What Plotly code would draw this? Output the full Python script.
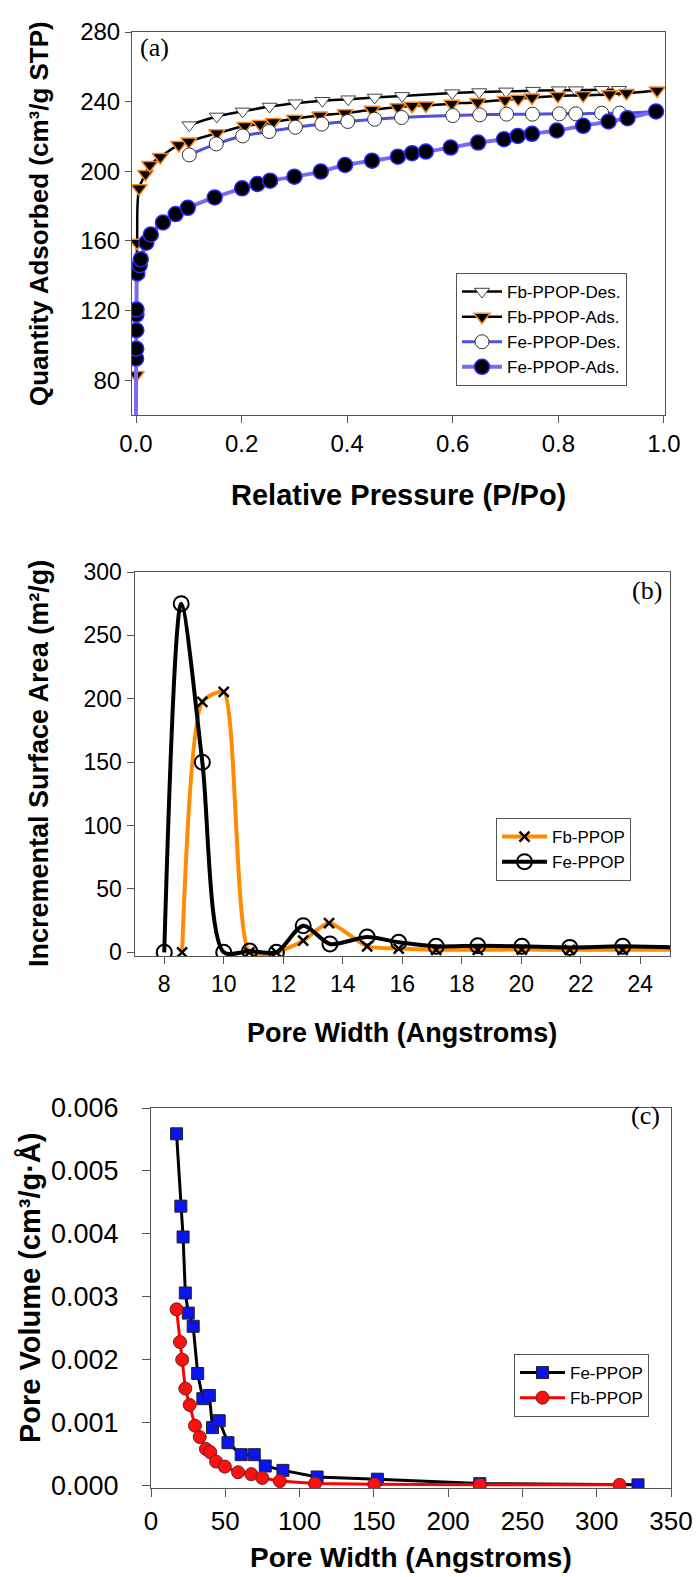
import plotly.graph_objects as go

W, H = 700, 1577

# ---------------- Panel (a) data ----------------
fb_des_x = [0.101, 0.153, 0.202, 0.253, 0.302, 0.353, 0.402, 0.452, 0.504, 0.599, 0.650, 0.701, 0.752, 0.801, 0.833, 0.882, 0.915]
fb_des_y = [226.5, 231.5, 234.4, 237.2, 239.1, 240.5, 241.4, 242.4, 243.3, 244.9, 245.5, 245.9, 246.3, 246.6, 246.6, 246.8, 246.8]

fb_ads_x = [0.0005, 0.002, 0.006, 0.018, 0.026, 0.046, 0.081, 0.100, 0.153, 0.206, 0.235, 0.260, 0.300, 0.348, 0.396,
            0.447, 0.496, 0.523, 0.549, 0.598, 0.647, 0.699, 0.724, 0.750, 0.799, 0.847, 0.897, 0.929, 0.987]
fb_ads_y = [83, 159, 190.2, 198.5, 203.6, 208.2, 215.1, 217.1, 221.8, 226.0, 227.1, 228.3, 230.2, 232.0, 233.4,
            235.3, 236.8, 237.6, 237.8, 238.8, 239.7, 241.0, 241.6, 242.4, 243.3, 243.6, 244.3, 244.9, 246.4]

fe_des_x = [0.101, 0.152, 0.202, 0.252, 0.302, 0.352, 0.401, 0.452, 0.503, 0.600, 0.651, 0.702, 0.751, 0.802, 0.833, 0.882, 0.916, 0.985]
fe_des_y = [209.4, 215.7, 220.3, 222.8, 225.3, 227.1, 228.6, 229.9, 230.9, 232.0, 232.4, 232.8, 232.8, 233.0, 233.0, 233.4, 233.4, 234.4]

fe_ads_x = [0.0, 0.0002, 0.0004, 0.0006, 0.0008, 0.001, 0.0025, 0.007, 0.009, 0.0195, 0.028, 0.051, 0.075, 0.098, 0.149,
            0.201, 0.230, 0.254, 0.300, 0.350, 0.396, 0.447, 0.496, 0.523, 0.549, 0.596, 0.648, 0.697, 0.723, 0.750,
            0.797, 0.847, 0.895, 0.931, 0.985]
fe_ads_y = [50, 92.4, 98.1, 108.7, 117.7, 120.6, 141.3, 146.1, 149.5, 159.0, 163.7, 170.6, 175.4, 179.0, 185.0,
            190.2, 192.7, 194.6, 196.9, 199.8, 203.6, 206.1, 208.4, 210.4, 211.3, 213.6, 216.5, 218.4, 220.3, 221.5,
            223.4, 226.1, 228.6, 230.5, 234.4]

# ---------------- Panel (b) data ----------------
b_fb_x = [8.6, 9.28, 10.0, 10.86, 11.77, 12.67, 13.54, 14.82, 15.88, 17.14, 18.54, 20.02, 21.63, 23.41, 25.6]
b_fb_y = [0, 197.6, 205.5, 0, 0, 9.2, 23.1, 4.7, 3, 2, 2, 2.2, 2, 2, 2]
b_fe_x = [8.0, 8.57, 9.28, 10.0, 10.87, 11.77, 12.67, 13.57, 14.82, 15.88, 17.14, 18.54, 20.02, 21.63, 23.41, 25.6]
b_fe_y = [0, 275, 150, 0, 1, 0, 21, 6.6, 12, 7.9, 4.7, 5.2, 4.7, 3.9, 4.7, 3.5]

# ---------------- Panel (c) data ----------------
c_fe_x = [17.2, 20.1, 21.6, 23.1, 25.1, 28.4, 31.4, 34.9, 39.3, 41.4, 45.9, 51.8, 60.7, 69.5, 76.9, 88.8, 111.8, 152.4, 221.3, 327.8]
c_fe_y = [0.00559, 0.00444, 0.00395, 0.00306, 0.00274, 0.00253, 0.00178, 0.00138, 0.00143, 0.00092, 0.00103, 0.00068,
          0.00049, 0.00049, 0.00031, 0.00024, 0.000135, 0.0001, 0.00003, 0.00001]
c_fb_x = [17.2, 19.5, 21.0, 23.1, 26.0, 29.6, 32.8, 37.0, 39.9, 43.8, 49.7, 58.6, 67.5, 74.9, 86.7, 110.4, 150.3, 221.3, 315.4]
c_fb_y = [0.0028, 0.00228, 0.0020, 0.00154, 0.00128, 0.00095, 0.00077, 0.00058, 0.00053, 0.00038, 0.00030, 0.00021,
          0.00018, 0.00012, 0.00007, 0.00003, 0.00002, 0.00001, 0.00001]

a_yticks = [80, 120, 160, 200, 240, 280]
a_xticks = [0.0, 0.2, 0.4, 0.6, 0.8, 1.0]
b_yticks = [0, 50, 100, 150, 200, 250, 300]
b_xticks = [8, 10, 12, 14, 16, 18, 20, 22, 24]
c_yticks = [0.000, 0.001, 0.002, 0.003, 0.004, 0.005, 0.006]
c_xticks = [0, 50, 100, 150, 200, 250, 300, 350]


def px(X):
    return X / W


def py(Y):
    return 1 - Y / H


FONT = "Arial, Liberation Sans, sans-serif"
SERIF = "Times New Roman, Liberation Serif, serif"
AX = "#555555"

fig = go.Figure()

# ---- (a) ----
fig.add_trace(go.Scatter(x=fb_des_x, y=fb_des_y, name="Fb-PPOP-Des.", mode="lines+markers",
                         line=dict(color="black", width=2.5, shape="spline"),
                         marker=dict(symbol="triangle-down", size=13, color="white",
                                     line=dict(color="#444444", width=1)),
                         xaxis="x", yaxis="y", legend="legend"))
fig.add_trace(go.Scatter(x=fb_ads_x, y=fb_ads_y, name="Fb-PPOP-Ads.", mode="lines+markers",
                         line=dict(color="black", width=2.5, shape="spline"),
                         marker=dict(symbol="triangle-down", size=14, color="black",
                                     line=dict(color="#ff8a1c", width=1.5)),
                         xaxis="x", yaxis="y", legend="legend"))
fig.add_trace(go.Scatter(x=fe_des_x, y=fe_des_y, name="Fe-PPOP-Des.", mode="lines+markers",
                         line=dict(color="#4f4fe0", width=3, shape="spline"),
                         marker=dict(symbol="circle", size=14, color="white",
                                     line=dict(color="#333333", width=1)),
                         xaxis="x", yaxis="y", legend="legend"))
fig.add_trace(go.Scatter(x=fe_ads_x, y=fe_ads_y, name="Fe-PPOP-Ads.", mode="lines+markers",
                         line=dict(color="#7a6af0", width=4, shape="spline"),
                         marker=dict(symbol="circle", size=15, color="black",
                                     line=dict(color="#2a2aff", width=1.5)),
                         xaxis="x", yaxis="y", legend="legend"))

# ---- (b) ----
fig.add_trace(go.Scatter(x=b_fb_x, y=b_fb_y, name="Fb-PPOP", mode="lines+markers",
                         line=dict(color="#ff8c00", width=4, shape="spline", smoothing=0.6),
                         marker=dict(symbol="x-thin", size=10, color="black",
                                     line=dict(color="black", width=2.5)),
                         xaxis="x2", yaxis="y2", legend="legend2"))
fig.add_trace(go.Scatter(x=b_fe_x, y=b_fe_y, name="Fe-PPOP", mode="lines+markers",
                         line=dict(color="black", width=4, shape="spline", smoothing=0.8),
                         marker=dict(symbol="circle-open", size=15, color="black",
                                     line=dict(color="black", width=2)),
                         xaxis="x2", yaxis="y2", legend="legend2"))

# ---- (c) ----
fig.add_trace(go.Scatter(x=c_fe_x, y=c_fe_y, name="Fe-PPOP", mode="lines+markers",
                         line=dict(color="black", width=3),
                         marker=dict(symbol="square", size=12, color="#0a14f0",
                                     line=dict(color="#222222", width=1)),
                         xaxis="x3", yaxis="y3", legend="legend3"))
fig.add_trace(go.Scatter(x=c_fb_x, y=c_fb_y, name="Fb-PPOP", mode="lines+markers",
                         line=dict(color="#ff0000", width=3),
                         marker=dict(symbol="circle", size=13, color="#ff1010",
                                     line=dict(color="#662222", width=1)),
                         xaxis="x3", yaxis="y3", legend="legend3"))


def axis(domain, rng, tickvals, anchor, fmt=None, size=22, ticklen=7, standoff=None):
    d = dict(domain=domain, range=rng, tickvals=tickvals, anchor=anchor,
             showline=True, linecolor=AX, linewidth=1, mirror=True,
             ticks="outside", ticklen=ticklen, tickcolor=AX, tickwidth=1,
             showgrid=False, zeroline=False, automargin=False,
             tickfont=dict(family=FONT, size=size, color="black"))
    if fmt:
        d["tickformat"] = fmt
    if standoff is not None:
        d["ticklabelstandoff"] = standoff
    return d


def legend(X, Y, iw=40):
    return dict(x=px(X), y=py(Y), xanchor="left", yanchor="top",
                bgcolor="white", bordercolor=AX, borderwidth=1,
                font=dict(family=FONT, size=17, color="black"), itemwidth=iw, tracegroupgap=0)


fig.update_layout(
    template="none",
    width=W, height=H, autosize=False,
    margin=dict(l=0, r=0, t=0, b=0, pad=0),
    paper_bgcolor="white", plot_bgcolor="white",
    xaxis=axis([px(124), px(657)], [-0.0076, 1.002], a_xticks, "y", ".1f", 24),
    yaxis=axis([py(407), py(24)], [60, 280], a_yticks, "x", None, 24, 6),
    xaxis2=axis([px(126.5), px(662)], [7, 25], b_xticks, "y2", None, 23),
    yaxis2=axis([py(948), py(564)], [-2.9, 300], b_yticks, "x2", None, 23),
    xaxis3=axis([px(143), px(663)], [0, 350], c_xticks, "y3", None, 26, 8, 2),
    yaxis3=axis([py(1480), py(1100)], [-0.00004, 0.006], c_yticks, "x3", ".3f", 27, 8, 18),
    legend=legend(448, 265),
    legend2=legend(488, 810, 45),
    legend3=legend(506, 1346, 45),
    showlegend=True,
)

ann = [
    dict(text="(a)", x=px(146), y=py(40), font=dict(family=SERIF, size=26, color="black")),
    dict(text="(b)", x=px(639), y=py(582), font=dict(family=SERIF, size=26, color="black")),
    dict(text="(c)", x=px(637), y=py(1107), font=dict(family=SERIF, size=26, color="black")),
    dict(text="<b>Relative Pressure (P/Po)</b>", x=px(390), y=py(487), font=dict(family=FONT, size=29, color="black")),
    dict(text="<b>Quantity Adsorbed (cm³/g STP)</b>", x=px(31), y=py(206), textangle=-90,
         font=dict(family=FONT, size=26, color="black")),
    dict(text="<b>Pore Width (Angstroms)</b>", x=px(394), y=py(1025), font=dict(family=FONT, size=27, color="black")),
    dict(text="<b>Incremental Surface Area (m²/g)</b>", x=px(31), y=py(756), textangle=-90,
         font=dict(family=FONT, size=27, color="black")),
    dict(text="<b>Pore Width (Angstroms)</b>", x=px(403), y=py(1549), font=dict(family=FONT, size=28, color="black")),
    dict(text="<b>Pore Volume (cm³/g·Å)</b>", x=px(22), y=py(1280), textangle=-90,
         font=dict(family=FONT, size=29, color="black")),
]
for a in ann:
    a.update(xref="paper", yref="paper", showarrow=False, xanchor="center", yanchor="middle")
fig.update_layout(annotations=ann)

fig.write_html("out.html")
